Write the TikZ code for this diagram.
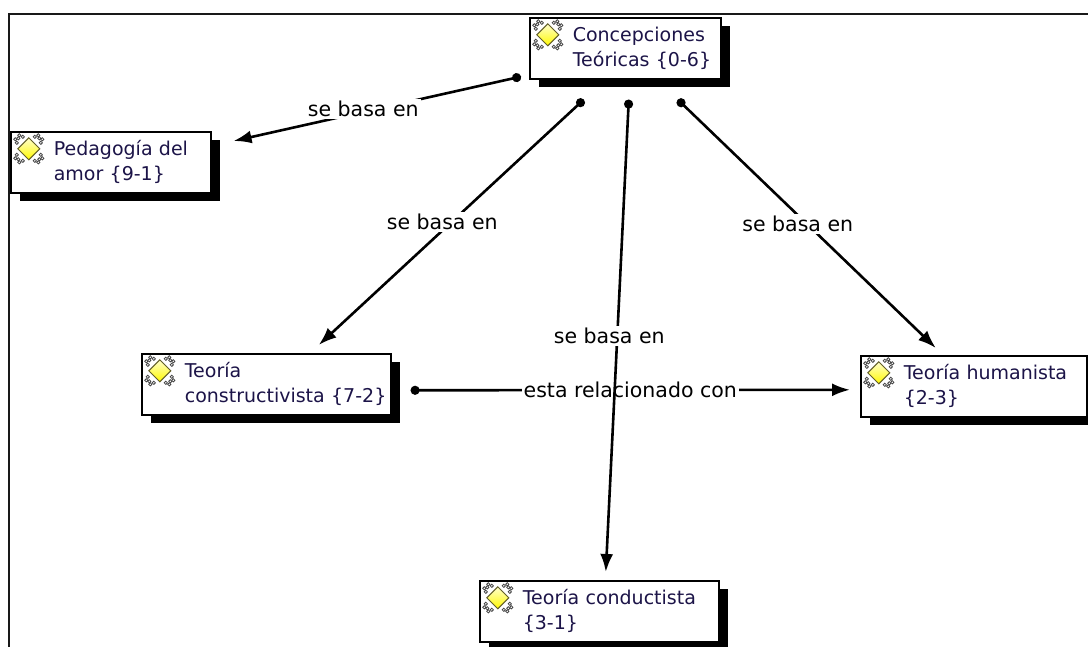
\documentclass[tikz,border=0pt]{standalone}
\usepackage{fontspec}
\setmainfont{DejaVu Sans}
\usepackage{xcolor}
\usepackage{tikz}
\usetikzlibrary{arrows.meta,shadows,calc}

\definecolor{textoconcepto}{RGB}{28,20,72}
\newcommand{\fuenteconcepto}{\fontsize{19}{25}\selectfont}
\newcommand{\fuenteenlace}{\fontsize{20.5}{24}\selectfont}

\tikzset{
    iconoconcepto/.pic={
        \foreach \sx in {-1,1} {
            \foreach \sy in {-1,1} {
                \foreach \px/\py in {6/12, 9.5/13.5, 13.5/9.5, 12/6, 10.5/10.5} {
                    \draw[gray!55!black, fill=white, line width=0.8pt] (\sx*\px,\sy*\py) circle (1.6);
                }
            }
        }
        \draw[olive!60!black, line width=1pt, top color=yellow!20!white, bottom color=yellow!95!orange]
            (0,-11) -- (11,0) -- (0,11) -- (-11,0) -- cycle;
    }
}

\begin{document}
\begin{tikzpicture}[
        x=1pt, y=-1pt,
        % cajas de concepto con sombra negra
        concepto/.style={rectangle, draw=black, line width=1.6pt, fill=white, anchor=north west,
            minimum height=61pt, inner sep=3pt, text width=#1, align=left,
            font=\fuenteconcepto, text=textoconcepto,
            drop shadow={fill=black, opacity=1, shadow xshift=9pt, shadow yshift=-8pt},
            execute at begin node={\leftskip=40pt\relax},
            path picture={\pic at ([shift={(18,17)}]path picture bounding box.north west) {iconoconcepto};}},
        enlace/.style={line width=2.6pt, {Circle[length=9pt]}-{Latex[length=18pt,width=13pt]}},
        etiqueta/.style={fill=white, inner sep=2pt, font=\fuenteenlace, text=black}
    ]
        \useasboundingbox (0,0) rectangle (1088,647);
        \draw[line width=2.4pt, black!90] (9,647) -- (9,14) -- (1088,14);

        \node [concepto=185pt] (teoricas) at (529,17) {Concepciones\\Teóricas~\{0-6\}};
        \node [concepto=194pt] (amor) at (10,131) {Pedagogía~del\\amor~\{9-1\}};
        \node [concepto=243pt] (constructivista) at (141,353) {Teoría\\constructivista~\{7-2\}};
        \node [concepto=220pt] (humanista) at (860,355) {Teoría~humanista\\\{2-3\}};
        \node [concepto=233pt] (conductista) at (479,580) {Teoría~conductista\\\{3-1\}};

        \draw[enlace] ([shift={(-8,-3)}]teoricas.south west) -- node[etiqueta, xshift=-14pt] (e1) {se basa en} ([shift={(22,10)}]amor.north east);
        \draw[enlace] ([shift={(-41.5,20)}]teoricas.south) -- node[etiqueta, xshift=-9pt] (e2) {se basa en} ([shift={(52.5,-8)}]constructivista.north);
        \draw[enlace] ([shift={(52.5,20)}]teoricas.south) -- node[etiqueta, xshift=-9pt] (e4) {se basa en} ([shift={(-38,-7)}]humanista.north);
        \draw[enlace] ([shift={(19,6)}]constructivista.east) -- node[etiqueta] (e5) {esta relacionado con} ([shift={(-10,3.5)}]humanista.west);
        \draw[enlace] ([shift={(3.5,20)}]teoricas.south) -- node[etiqueta, xshift=-8pt] (e3) {se basa en} ([shift={(6.5,-8)}]conductista.north);
    \end{tikzpicture}
\end{document}
